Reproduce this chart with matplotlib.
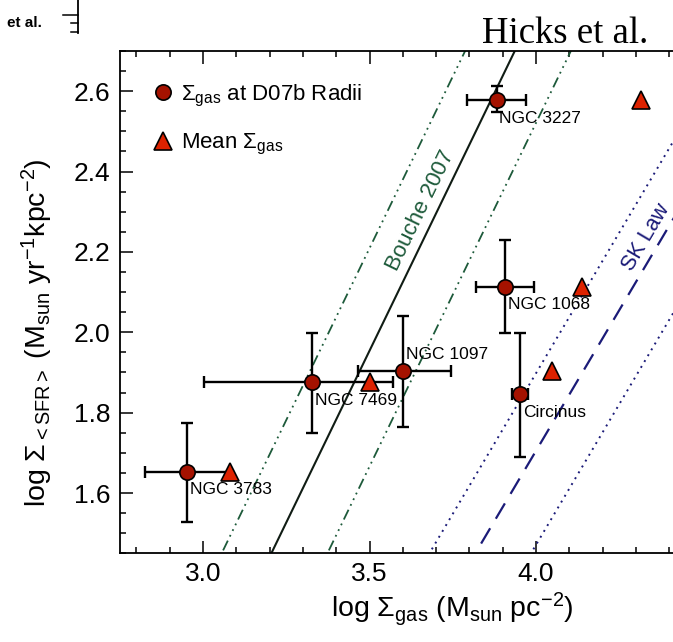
import numpy as np
import matplotlib.pyplot as plt
from matplotlib.lines import Line2D
from matplotlib.ticker import MultipleLocator, FixedLocator, FormatStrFormatter

plt.rcParams['font.family'] = ['Liberation Sans', 'DejaVu Sans']
plt.rcParams['mathtext.fontset'] = 'custom'
plt.rcParams['mathtext.rm'] = 'Liberation Sans'
plt.rcParams['mathtext.it'] = 'Liberation Sans:italic'
plt.rcParams['mathtext.bf'] = 'Liberation Sans:bold'

# galaxies, values at the D07b radii
names = ['NGC 3783', 'NGC 7469', 'NGC 1097', 'NGC 3227', 'NGC 1068', 'Circinus']
gas_d07 = [2.953, 3.328, 3.601, 3.882, 3.907, 3.952]
gas_err_lo = [0.127, 0.325, 0.136, 0.088, 0.087, 0.024]
gas_err_hi = [0.127, 0.243, 0.143, 0.087, 0.087, 0.024]
sfr = [1.653, 1.876, 1.904, 2.578, 2.113, 1.846]
sfr_err_lo = [0.124, 0.126, 0.139, 0.031, 0.115, 0.156]
sfr_err_hi = [0.122, 0.123, 0.137, 0.035, 0.117, 0.153]

# mean gas surface density (Circinus falls outside the plotted range)
gas_mean = [3.081, 3.502, 4.047, 4.315, 4.137, np.nan]

# relations: log SFR = slope * log gas + c, with scatter band offsets
bouche_slope, bouche_c = 1.71, -4.031
bouche_band = [0.255, -0.288]
sk_slope, sk_c = 1.4, -3.895
sk_band = [0.193, -0.234]

W, H = 673, 642
fig = plt.figure(figsize=(W / 100, H / 100), dpi=100)
ax = fig.add_axes([119.75 / W, (H - 553.3) / H, (702.5 - 119.75) / W, (553.3 - 51) / H])
ax.set_xlim(2.75, 4.5)
ax.set_ylim(1.45, 2.70)

green = '#1d5a3a'
navy = '#1b1b78'
xx = np.array([2.5, 5.0])

ax.plot(xx, bouche_slope * xx + bouche_c, color='#101c14', lw=1.5, zorder=2)
for off in bouche_band:
    ax.plot(xx, bouche_slope * xx + bouche_c + off, color=green, lw=1.3,
            dashes=(6, 2.5, 1, 2.5, 1, 2.5, 1, 2.5), zorder=2)
ax.plot(xx, sk_slope * xx + sk_c, color=navy, lw=1.6, dashes=(8, 5), zorder=2)
for off in sk_band:
    ax.plot(xx, sk_slope * xx + sk_c + off, color=navy, lw=1.4, dashes=(1, 2.5), zorder=2)

def line_angle(slope, x, y):
    return ax.transData.transform_angles(np.array([np.degrees(np.arctan(slope))]),
                                         np.array([[x, y]]))[0]

ax.text(3.654, 2.304, 'Bouche 2007', color=green, fontsize=16,
        rotation=line_angle(bouche_slope, 3.654, 2.304), rotation_mode='anchor',
        ha='center', va='center')
ax.text(4.330, 2.235, 'SK Law', color=navy, fontsize=15.5,
        rotation=line_angle(sk_slope, 4.330, 2.235), rotation_mode='anchor',
        ha='center', va='center')

ax.errorbar(gas_d07, sfr, xerr=[gas_err_lo, gas_err_hi], yerr=[sfr_err_lo, sfr_err_hi],
            fmt='none', ecolor='black', elinewidth=1.7, capsize=4.5, capthick=1.7, zorder=4)
ax.plot(gas_d07, sfr, 'o', ms=11, mfc='#a51200', mec='black', mew=1.2, zorder=5)
ax.plot(gas_mean, sfr, '^', ms=13, mfc='#dd2200', mec='black', mew=1.2, zorder=6)

for n, gx, sy in zip(names, gas_d07, sfr):
    dy = 12 if n == 'NGC 1097' else -13
    ax.annotate(n, (gx, sy), xytext=(2, dy), textcoords='offset points',
                fontsize=12.5, ha='left', va='center', zorder=7)

handles = [Line2D([], [], ls='none', marker='o', ms=11, mfc='#a51200', mec='black', mew=1.2),
           Line2D([], [], ls='none', marker='^', ms=13, mfc='#dd2200', mec='black', mew=1.2)]
ax.legend(handles, [r'$\Sigma_{\rm gas}$ at D07b Radii', r'Mean $\Sigma_{\rm gas}$'],
          loc='upper left', bbox_to_anchor=(0.0576, 0.937), frameon=False, fontsize=16,
          handlelength=0.9, handletextpad=0.35, labelspacing=1.05, borderpad=0, borderaxespad=0)

ax.xaxis.set_major_locator(FixedLocator([3.0, 3.5, 4.0]))
ax.xaxis.set_minor_locator(MultipleLocator(0.1))
ax.yaxis.set_major_locator(MultipleLocator(0.2))
ax.yaxis.set_minor_locator(MultipleLocator(0.05))
ax.xaxis.set_major_formatter(FormatStrFormatter('%.1f'))
ax.yaxis.set_major_formatter(FormatStrFormatter('%.1f'))
ax.tick_params(which='both', direction='in', top=True, right=True, width=1.1, labelsize=19)
ax.tick_params(which='major', length=9)
ax.tick_params(which='minor', length=4.5)
ax.tick_params(axis='x', pad=6)
ax.tick_params(axis='y', pad=7)
for s in ax.spines.values():
    s.set_linewidth(1.3)

ax.set_xlabel(r'log $\Sigma_{\rm gas}$ (M$_{\rm sun}$ pc$^{-2}$)', fontsize=20.5)
ax.set_ylabel(r'log $\Sigma_{\rm <SFR>}$ (M$_{\rm sun}$ yr$^{-1}$kpc$^{-2}$)', fontsize=20.5)
ax.xaxis.set_label_coords(0.57, -0.075)
ax.yaxis.set_label_coords(-0.111, 0.44)

fig.text(482 / W, 1 - 43 / H, 'Hicks et al.', family='Liberation Serif', fontsize=26.5,
         va='baseline', ha='left')

# fragment of the neighbouring panel in the top-left corner
fig.text(7 / W, 1 - 27 / H, 'et al.', fontsize=11, fontweight='bold', va='baseline')
fx = 77.7 / W
fig.add_artist(Line2D([fx, fx], [1, 1 - 33 / H], color='black', lw=1.3))
for ty, tl in [(15, 14.5), (23.3, 7), (32.3, 7)]:
    fig.add_artist(Line2D([fx - tl / W, fx], [1 - ty / H] * 2, color='black', lw=1.1))

fig.savefig('out.png', dpi=100)
